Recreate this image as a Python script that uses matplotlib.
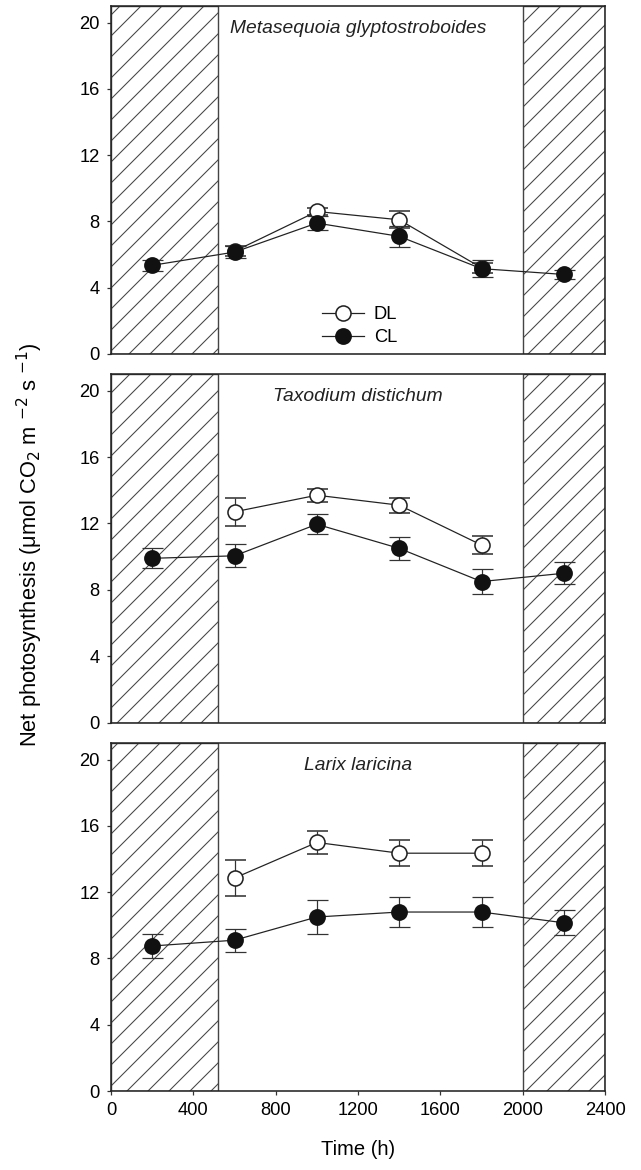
import numpy as np
import matplotlib
matplotlib.use('Agg')
import matplotlib.pyplot as plt
from matplotlib.lines import Line2D

plt.rcParams['font.family'] = ['Liberation Sans', 'DejaVu Sans']
plt.rcParams['hatch.linewidth'] = 0.6
plt.rcParams['hatch.color'] = '#333333'

# sampling times (h)
cl_time = [200, 600, 1000, 1400, 1800, 2200]
dl_time = [600, 1000, 1400, 1800]

species = ['Metasequoia glyptostroboides', 'Taxodium distichum', 'Larix laricina']

# net photosynthesis, continuous light (CL)
cl_mean = [
    [5.35, 6.15, 7.9, 7.1, 5.15, 4.8],
    [9.9, 10.05, 11.95, 10.5, 8.5, 9.0],
    [8.75, 9.1, 10.5, 10.8, 10.8, 10.15],
]
cl_err = [
    [0.35, 0.35, 0.4, 0.65, 0.5, 0.25],
    [0.6, 0.7, 0.6, 0.7, 0.75, 0.65],
    [0.7, 0.7, 1.05, 0.9, 0.9, 0.75],
]

# net photosynthesis, diurnal light (DL)
dl_mean = [
    [6.2, 8.6, 8.1, 5.2],
    [12.7, 13.7, 13.1, 10.7],
    [12.85, 15.0, 14.35, 14.35],
]
dl_err = [
    [0.3, 0.2, 0.5, 0.3],
    [0.85, 0.4, 0.45, 0.55],
    [1.1, 0.7, 0.8, 0.8],
]

# dark (hatched) periods
dark_periods = [(0, 520), (2000, 2400)]

dpi = 126
fig = plt.figure(figsize=(641 / dpi, 1170 / dpi), dpi=dpi)

left = 111 / 641
width = 494 / 641
panel_px = [(6, 354), (374, 722.7), (743, 1091)]

marker_kw = dict(ms=8.6, lw=0.7, color='#222222')
err_kw = dict(ecolor='#333333', elinewidth=0.7, capsize=6, capthick=0.7)

axes = []
for i, (top, bot) in enumerate(panel_px):
    ax = fig.add_axes([left, 1 - bot / 1170, width, (bot - top) / 1170])
    axes.append(ax)

    for x0, x1 in dark_periods:
        ax.axvspan(x0, x1, facecolor='none', edgecolor='#444444',
                   hatch='//', linewidth=0.8, zorder=0)

    ax.errorbar(dl_time, dl_mean[i], yerr=dl_err[i], fmt='-o',
                mfc='white', mec='#222222', mew=0.9, zorder=3,
                **marker_kw, **err_kw)
    ax.errorbar(cl_time, cl_mean[i], yerr=cl_err[i], fmt='-o',
                mfc='#111111', mec='#111111', zorder=4,
                **marker_kw, **err_kw)

    ax.set_xlim(0, 2400)
    ax.set_ylim(0, 21)
    ax.set_yticks([0, 4, 8, 12, 16, 20])
    ax.set_xticks([0, 400, 800, 1200, 1600, 2000, 2400])
    ax.tick_params(direction='out', length=2.5, width=0.7, labelsize=10.5,
                   color='#333333', pad=4)
    for s in ax.spines.values():
        s.set_color('#222222')
        s.set_linewidth(0.9)

    ax.text(0.5, 0.96, species[i], transform=ax.transAxes, ha='center',
            va='top', fontsize=11, style='italic', color='#222222')

    if i < 2:
        ax.tick_params(axis='x', bottom=False, labelbottom=False)

handles = [
    Line2D([], [], marker='o', mfc='white', mec='#222222', mew=0.9, **marker_kw),
    Line2D([], [], marker='o', mfc='#111111', mec='#111111', **marker_kw),
]
axes[0].legend(handles, ['DL', 'CL'], loc='center', bbox_to_anchor=(0.503, 0.08),
               frameon=False, fontsize=10.5, handlelength=2.3,
               handletextpad=0.55, labelspacing=0.35)

axes[2].set_xlabel('Time (h)', fontsize=11.5, labelpad=12)
fig.text(30 / 641, 1 - 545 / 1170,
         r'Net photosynthesis (μmol CO$_2$ m $^{-2}$ s $^{-1}$)',
         rotation=90, ha='center', va='center', fontsize=12.5)

fig.savefig('out.png', dpi=dpi)
